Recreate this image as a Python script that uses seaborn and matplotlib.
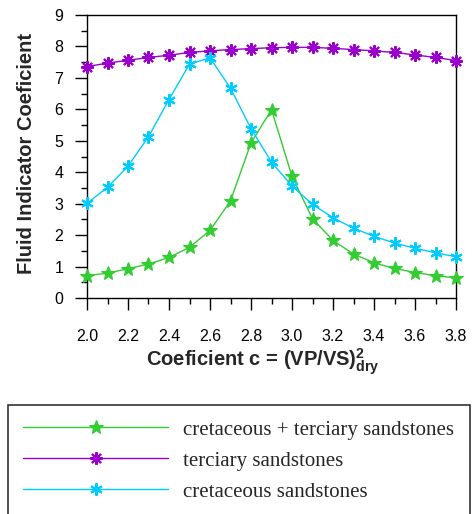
import matplotlib
matplotlib.use("Agg")
import matplotlib.pyplot as plt
import seaborn as sns
import pandas as pd
from matplotlib.ticker import MultipleLocator

c_values = [2.0, 2.1, 2.2, 2.3, 2.4, 2.5, 2.6, 2.7, 2.8, 2.9, 3.0,
            3.1, 3.2, 3.3, 3.4, 3.5, 3.6, 3.7, 3.8]
cret_terc = [0.71, 0.79, 0.93, 1.08, 1.29, 1.61, 2.15, 3.09, 4.93, 5.99, 3.87,
             2.52, 1.83, 1.40, 1.12, 0.94, 0.81, 0.71, 0.64]
terciary = [7.36, 7.47, 7.56, 7.65, 7.72, 7.81, 7.86, 7.90, 7.93, 7.96, 7.97,
            7.97, 7.94, 7.90, 7.86, 7.81, 7.73, 7.65, 7.55]
cretaceous = [3.01, 3.52, 4.19, 5.13, 6.31, 7.44, 7.64, 6.67, 5.39, 4.32, 3.56,
              2.98, 2.55, 2.22, 1.96, 1.75, 1.58, 1.44, 1.31]
series_names = ["cretaceous + terciary sandstones", "terciary sandstones",
                "cretaceous sandstones"]
x_tick_labels = ["2.0", "2.2", "2.4", "2.6", "2.8", "3.0", "3.2", "3.4", "3.6", "3.8"]

sns.set_theme(style="ticks")
plt.rcParams["font.family"] = ["Liberation Sans", "DejaVu Sans"]
plt.rcParams["mathtext.fontset"] = "custom"
plt.rcParams["mathtext.rm"] = "Liberation Sans:bold"
plt.rcParams["mathtext.bf"] = "Liberation Sans:bold"
plt.rcParams["mathtext.it"] = "Liberation Sans:bold"

fig = plt.figure(figsize=(4.74, 5.14), dpi=100)
ax = fig.add_axes([87/474, 1-298/514, (456-87)/474, (298-15)/514])

styles = [
    (cret_terc, "#33cc33", "*", 10.5, 0.8),
    (terciary, "#9900cc", (8, 2, 0), 9, 1.5),
    (cretaceous, "#00ccff", (6, 2, 0), 9, 1.5),
]
for name, (vals, col, mk, ms, mew) in zip(series_names, styles):
    df = pd.DataFrame({"c": c_values, "v": vals})
    sns.lineplot(data=df, x="c", y="v", ax=ax, color=col, marker=mk,
                 markersize=ms, markeredgecolor=col, markerfacecolor=col,
                 markeredgewidth=mew, linewidth=1.0, label=name, legend=False,
                 clip_on=False, zorder=3)

ax.set_xlim(2.0, 3.8)
ax.set_ylim(0, 9)
ax.xaxis.set_minor_locator(MultipleLocator(0.1))
ax.yaxis.set_major_locator(MultipleLocator(1))
ax.yaxis.set_minor_locator(MultipleLocator(0.5))
ax.set_xticks([float(t) for t in x_tick_labels])
ax.set_xticklabels(x_tick_labels)
ax.tick_params(axis="both", which="major", direction="out", length=8.5, width=1,
               labelsize=11.5, color="black", labelcolor="black")
ax.tick_params(axis="both", which="minor", direction="out", length=4.5, width=1,
               color="black")
ax.tick_params(axis="x", which="major", pad=13.5)
ax.tick_params(axis="y", which="major", pad=8.5)
for sp in ax.spines.values():
    sp.set_visible(True)
    sp.set_color("black")
    sp.set_linewidth(1.0)

ax.set_xlabel(r"Coeficient c = (VP/VS)$^{2}_{dry}$", fontsize=14.5, fontweight="bold")
ax.set_ylabel("Fluid Indicator Coeficient", fontsize=14.5, fontweight="bold")
ax.xaxis.set_label_coords(0.477, -0.172)
ax.yaxis.set_label_coords(-0.138, 0.51)

handles, labels = ax.get_legend_handles_labels()
leg = fig.legend(handles, labels, loc="upper left",
                 bbox_to_anchor=(8/474, 1-405/514, (470-8)/474, 0.0),
                 mode="expand", prop={"family": "Liberation Serif", "size": 15},
                 handlelength=6.97, handletextpad=0.72, numpoints=1,
                 frameon=True, fancybox=False, edgecolor="black",
                 labelspacing=0.55, borderpad=0.72, borderaxespad=0)
leg.get_frame().set_linewidth(1.2)

fig.savefig("out.png", dpi=100)
